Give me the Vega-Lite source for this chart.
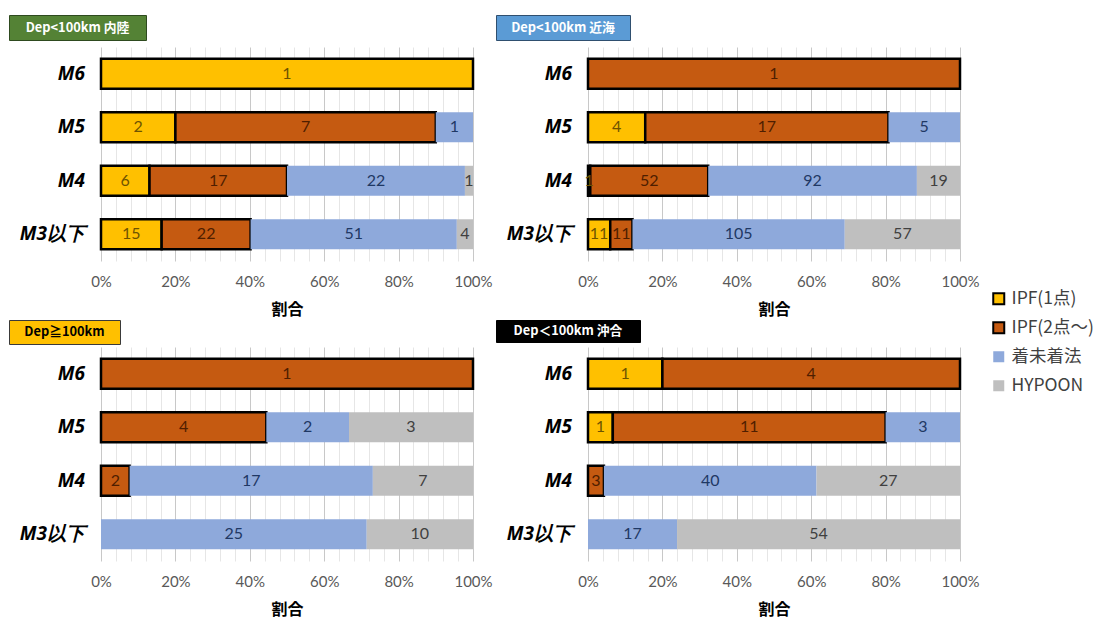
{
  "$schema": "https://vega.github.io/schema/vega-lite/v6.json",
  "padding": {"left": 8, "top": 14, "right": 0, "bottom": 4},
  "background": "white",
  "config": {
    "view": {"stroke": null},
    "axisX": {"domain": false, "ticks": false, "labelFlush": false, "labelOverlap": false, "labelPadding": 13, "labelFont": "Lato", "labelFontSize": 15, "labelColor": "#595959", "titleFont": "Noto Sans CJK JP", "titleFontSize": 16, "titleFontWeight": "bold", "titleColor": "#000000", "titlePadding": 12},
    "legend": {"symbolType": "square", "symbolSize": 121, "symbolStrokeWidth": 2, "labelFont": "Noto Sans CJK JP", "labelFontSize": 17.5, "labelColor": "#404040", "labelOffset": 4, "rowPadding": 9}
  },
  "datasets": {
    "mags": [{"mag": "M6"}, {"mag": "M5"}, {"mag": "M4"}, {"mag": "M3以下"}],
    "typeOrder": [
      {"type": "IPF(1点)", "rank": 1},
      {"type": "IPF(2点～)", "rank": 2},
      {"type": "着未着法", "rank": 3},
      {"type": "HYPOON", "rank": 4}
    ],
    "counts": [
      {"panel": "A", "mag": "M6", "type": "IPF(1点)", "n": 1},
      {"panel": "A", "mag": "M5", "type": "IPF(1点)", "n": 2},
      {"panel": "A", "mag": "M5", "type": "IPF(2点～)", "n": 7},
      {"panel": "A", "mag": "M5", "type": "着未着法", "n": 1},
      {"panel": "A", "mag": "M4", "type": "IPF(1点)", "n": 6},
      {"panel": "A", "mag": "M4", "type": "IPF(2点～)", "n": 17},
      {"panel": "A", "mag": "M4", "type": "着未着法", "n": 22},
      {"panel": "A", "mag": "M4", "type": "HYPOON", "n": 1},
      {"panel": "A", "mag": "M3以下", "type": "IPF(1点)", "n": 15},
      {"panel": "A", "mag": "M3以下", "type": "IPF(2点～)", "n": 22},
      {"panel": "A", "mag": "M3以下", "type": "着未着法", "n": 51},
      {"panel": "A", "mag": "M3以下", "type": "HYPOON", "n": 4},
      {"panel": "B", "mag": "M6", "type": "IPF(2点～)", "n": 1},
      {"panel": "B", "mag": "M5", "type": "IPF(1点)", "n": 4},
      {"panel": "B", "mag": "M5", "type": "IPF(2点～)", "n": 17},
      {"panel": "B", "mag": "M5", "type": "着未着法", "n": 5},
      {"panel": "B", "mag": "M4", "type": "IPF(1点)", "n": 1},
      {"panel": "B", "mag": "M4", "type": "IPF(2点～)", "n": 52},
      {"panel": "B", "mag": "M4", "type": "着未着法", "n": 92},
      {"panel": "B", "mag": "M4", "type": "HYPOON", "n": 19},
      {"panel": "B", "mag": "M3以下", "type": "IPF(1点)", "n": 11},
      {"panel": "B", "mag": "M3以下", "type": "IPF(2点～)", "n": 11},
      {"panel": "B", "mag": "M3以下", "type": "着未着法", "n": 105},
      {"panel": "B", "mag": "M3以下", "type": "HYPOON", "n": 57},
      {"panel": "C", "mag": "M6", "type": "IPF(2点～)", "n": 1},
      {"panel": "C", "mag": "M5", "type": "IPF(2点～)", "n": 4},
      {"panel": "C", "mag": "M5", "type": "着未着法", "n": 2},
      {"panel": "C", "mag": "M5", "type": "HYPOON", "n": 3},
      {"panel": "C", "mag": "M4", "type": "IPF(2点～)", "n": 2},
      {"panel": "C", "mag": "M4", "type": "着未着法", "n": 17},
      {"panel": "C", "mag": "M4", "type": "HYPOON", "n": 7},
      {"panel": "C", "mag": "M3以下", "type": "着未着法", "n": 25},
      {"panel": "C", "mag": "M3以下", "type": "HYPOON", "n": 10},
      {"panel": "D", "mag": "M6", "type": "IPF(1点)", "n": 1},
      {"panel": "D", "mag": "M6", "type": "IPF(2点～)", "n": 4},
      {"panel": "D", "mag": "M5", "type": "IPF(1点)", "n": 1},
      {"panel": "D", "mag": "M5", "type": "IPF(2点～)", "n": 11},
      {"panel": "D", "mag": "M5", "type": "着未着法", "n": 3},
      {"panel": "D", "mag": "M4", "type": "IPF(2点～)", "n": 3},
      {"panel": "D", "mag": "M4", "type": "着未着法", "n": 40},
      {"panel": "D", "mag": "M4", "type": "HYPOON", "n": 27},
      {"panel": "D", "mag": "M3以下", "type": "着未着法", "n": 17},
      {"panel": "D", "mag": "M3以下", "type": "HYPOON", "n": 54}
    ]
  },
  "resolve": {"scale": {"color": "shared", "stroke": "shared", "fill": "shared"}, "legend": {"color": "shared", "stroke": "shared"}},
  "spacing": 2,
  "hconcat": [
    {
      "spacing": 2,
      "vconcat": [
        {
          "spacing": 6,
          "vconcat": [
            {
              "width": 137, "height": 25,
              "view": {"fill": "#548235", "stroke": "#2e4a1f", "strokeWidth": 1},
              "data": {"values": [{"label": "Dep<100km 内陸"}]},
              "mark": {"type": "text", "font": "Noto Sans CJK JP", "fontWeight": "bold", "fontSize": 12.8, "color": "white", "align": "center", "baseline": "middle"},
              "encoding": {"text": {"field": "label"}}
            },
            {
              "spacing": 5,
              "hconcat": [
                {
                  "width": 76, "height": 214,
                  "data": {"name": "mags"},
                  "mark": {"type": "text", "align": "right", "baseline": "middle", "font": "Open Sans", "fontSize": 19, "fontWeight": "bold", "fontStyle": "italic", "color": "#000000"},
                  "encoding": {
                    "y": {"field": "mag", "type": "nominal", "sort": ["M6", "M5", "M4", "M3以下"], "axis": null, "scale": {"domain": ["M6", "M5", "M4", "M3以下"], "paddingInner": 0.44, "paddingOuter": 0.22}},
                    "x": {"value": "width"},
                    "text": {"field": "mag"}
                  }
                },
                {
                  "width": 372, "height": 214,
                  "data": {"name": "counts"},
                  "transform": [
                    {"filter": "datum.panel === 'A'"},
                    {"lookup": "type", "from": {"data": {"name": "typeOrder"}, "key": "type", "fields": ["rank"]}}
                  ],
                  "encoding": {
                    "y": {"field": "mag", "type": "nominal", "sort": ["M6", "M5", "M4", "M3以下"], "axis": null, "scale": {"domain": ["M6", "M5", "M4", "M3以下"], "paddingInner": 0.44, "paddingOuter": 0.22}},
                    "order": {"field": "rank", "type": "quantitative"}
                  },
                  "layer": [
                    {
                      "mark": {"type": "bar", "strokeWidth": 2.5},
                      "encoding": {
                        "x": {"field": "n", "type": "quantitative", "stack": "normalize", "title": "割合", "scale": {"domain": [0, 1]},
                          "axis": {"values": [0, 0.04, 0.08, 0.12, 0.16, 0.2, 0.24, 0.28, 0.32, 0.36, 0.4, 0.44, 0.48, 0.52, 0.56, 0.6, 0.64, 0.68, 0.72, 0.76, 0.8, 0.84, 0.88, 0.92, 0.96, 1],
                            "labelExpr": "round(datum.value*100) % 20 == 0 ? round(datum.value*100) + '%' : ''",
                            "gridColor": {"condition": {"test": "round(datum.value*100) % 20 == 0", "value": "#c8c8c8"}, "value": "#e6e6e6"}}},
                        "color": {"field": "type", "type": "nominal",
                          "scale": {"domain": ["IPF(1点)", "IPF(2点～)", "着未着法", "HYPOON"], "range": ["#FFC000", "#C55A11", "#8EA9DB", "#BFBFBF"]},
                          "legend": {"orient": "none", "legendX": 981, "legendY": 275, "title": null}},
                        "stroke": {"field": "type", "type": "nominal",
                          "scale": {"domain": ["IPF(1点)", "IPF(2点～)", "着未着法", "HYPOON"], "range": ["#000000", "#000000", "transparent", "transparent"]},
                          "legend": {"orient": "none", "legendX": 981, "legendY": 275, "title": null}}
                      }
                    },
                    {
                      "mark": {"type": "text", "font": "Lato", "fontSize": 16},
                      "encoding": {
                        "x": {"field": "n", "type": "quantitative", "stack": "normalize", "bandPosition": 0.5, "title": "割合", "scale": {"domain": [0, 1]},
                          "axis": {"values": [0, 0.04, 0.08, 0.12, 0.16, 0.2, 0.24, 0.28, 0.32, 0.36, 0.4, 0.44, 0.48, 0.52, 0.56, 0.6, 0.64, 0.68, 0.72, 0.76, 0.8, 0.84, 0.88, 0.92, 0.96, 1],
                            "labelExpr": "round(datum.value*100) % 20 == 0 ? round(datum.value*100) + '%' : ''",
                            "gridColor": {"condition": {"test": "round(datum.value*100) % 20 == 0", "value": "#c8c8c8"}, "value": "#e6e6e6"}}},
                        "text": {"field": "n", "type": "quantitative"},
                        "fill": {"field": "type", "type": "nominal",
                          "scale": {"domain": ["IPF(1点)", "IPF(2点～)", "着未着法", "HYPOON"], "range": ["#6E5300", "#4F1E00", "#1F3864", "#404040"]},
                          "legend": null}
                      }
                    }
                  ]
                }
              ]
            }
          ]
        },
        {
          "spacing": 2,
          "vconcat": [
            {
              "width": 111, "height": 24,
              "view": {"fill": "#FFC000", "stroke": "#3a3a3a", "strokeWidth": 1},
              "data": {"values": [{"label": "Dep≧100km"}]},
              "mark": {"type": "text", "font": "Noto Sans CJK JP", "fontWeight": "bold", "fontSize": 12.8, "color": "#000000", "align": "center", "baseline": "middle"},
              "encoding": {"text": {"field": "label"}}
            },
            {
              "spacing": 5,
              "hconcat": [
                {
                  "width": 76, "height": 214,
                  "data": {"name": "mags"},
                  "mark": {"type": "text", "align": "right", "baseline": "middle", "font": "Open Sans", "fontSize": 19, "fontWeight": "bold", "fontStyle": "italic", "color": "#000000"},
                  "encoding": {
                    "y": {"field": "mag", "type": "nominal", "sort": ["M6", "M5", "M4", "M3以下"], "axis": null, "scale": {"domain": ["M6", "M5", "M4", "M3以下"], "paddingInner": 0.44, "paddingOuter": 0.22}},
                    "x": {"value": "width"},
                    "text": {"field": "mag"}
                  }
                },
                {
                  "width": 372, "height": 214,
                  "data": {"name": "counts"},
                  "transform": [
                    {"filter": "datum.panel === 'C'"},
                    {"lookup": "type", "from": {"data": {"name": "typeOrder"}, "key": "type", "fields": ["rank"]}}
                  ],
                  "encoding": {
                    "y": {"field": "mag", "type": "nominal", "sort": ["M6", "M5", "M4", "M3以下"], "axis": null, "scale": {"domain": ["M6", "M5", "M4", "M3以下"], "paddingInner": 0.44, "paddingOuter": 0.22}},
                    "order": {"field": "rank", "type": "quantitative"}
                  },
                  "layer": [
                    {
                      "mark": {"type": "bar", "strokeWidth": 2.5},
                      "encoding": {
                        "x": {"field": "n", "type": "quantitative", "stack": "normalize", "title": "割合", "scale": {"domain": [0, 1]},
                          "axis": {"values": [0, 0.04, 0.08, 0.12, 0.16, 0.2, 0.24, 0.28, 0.32, 0.36, 0.4, 0.44, 0.48, 0.52, 0.56, 0.6, 0.64, 0.68, 0.72, 0.76, 0.8, 0.84, 0.88, 0.92, 0.96, 1],
                            "labelExpr": "round(datum.value*100) % 20 == 0 ? round(datum.value*100) + '%' : ''",
                            "gridColor": {"condition": {"test": "round(datum.value*100) % 20 == 0", "value": "#c8c8c8"}, "value": "#e6e6e6"}}},
                        "color": {"field": "type", "type": "nominal",
                          "scale": {"domain": ["IPF(1点)", "IPF(2点～)", "着未着法", "HYPOON"], "range": ["#FFC000", "#C55A11", "#8EA9DB", "#BFBFBF"]},
                          "legend": {"orient": "none", "legendX": 981, "legendY": 275, "title": null}},
                        "stroke": {"field": "type", "type": "nominal",
                          "scale": {"domain": ["IPF(1点)", "IPF(2点～)", "着未着法", "HYPOON"], "range": ["#000000", "#000000", "transparent", "transparent"]},
                          "legend": {"orient": "none", "legendX": 981, "legendY": 275, "title": null}}
                      }
                    },
                    {
                      "mark": {"type": "text", "font": "Lato", "fontSize": 16},
                      "encoding": {
                        "x": {"field": "n", "type": "quantitative", "stack": "normalize", "bandPosition": 0.5, "title": "割合", "scale": {"domain": [0, 1]},
                          "axis": {"values": [0, 0.04, 0.08, 0.12, 0.16, 0.2, 0.24, 0.28, 0.32, 0.36, 0.4, 0.44, 0.48, 0.52, 0.56, 0.6, 0.64, 0.68, 0.72, 0.76, 0.8, 0.84, 0.88, 0.92, 0.96, 1],
                            "labelExpr": "round(datum.value*100) % 20 == 0 ? round(datum.value*100) + '%' : ''",
                            "gridColor": {"condition": {"test": "round(datum.value*100) % 20 == 0", "value": "#c8c8c8"}, "value": "#e6e6e6"}}},
                        "text": {"field": "n", "type": "quantitative"},
                        "fill": {"field": "type", "type": "nominal",
                          "scale": {"domain": ["IPF(1点)", "IPF(2点～)", "着未着法", "HYPOON"], "range": ["#6E5300", "#4F1E00", "#1F3864", "#404040"]},
                          "legend": null}
                      }
                    }
                  ]
                }
              ]
            }
          ]
        }
      ]
    },
    {
      "spacing": 2,
      "vconcat": [
        {
          "spacing": 6,
          "vconcat": [
            {
              "width": 134, "height": 25,
              "view": {"fill": "#5B9BD5", "stroke": "#2f4f6f", "strokeWidth": 1},
              "data": {"values": [{"label": "Dep<100km 近海"}]},
              "mark": {"type": "text", "font": "Noto Sans CJK JP", "fontWeight": "bold", "fontSize": 12.8, "color": "white", "align": "center", "baseline": "middle"},
              "encoding": {"text": {"field": "label"}}
            },
            {
              "spacing": 5,
              "hconcat": [
                {
                  "width": 76, "height": 214,
                  "data": {"name": "mags"},
                  "mark": {"type": "text", "align": "right", "baseline": "middle", "font": "Open Sans", "fontSize": 19, "fontWeight": "bold", "fontStyle": "italic", "color": "#000000"},
                  "encoding": {
                    "y": {"field": "mag", "type": "nominal", "sort": ["M6", "M5", "M4", "M3以下"], "axis": null, "scale": {"domain": ["M6", "M5", "M4", "M3以下"], "paddingInner": 0.44, "paddingOuter": 0.22}},
                    "x": {"value": "width"},
                    "text": {"field": "mag"}
                  }
                },
                {
                  "width": 372, "height": 214,
                  "data": {"name": "counts"},
                  "transform": [
                    {"filter": "datum.panel === 'B'"},
                    {"lookup": "type", "from": {"data": {"name": "typeOrder"}, "key": "type", "fields": ["rank"]}}
                  ],
                  "encoding": {
                    "y": {"field": "mag", "type": "nominal", "sort": ["M6", "M5", "M4", "M3以下"], "axis": null, "scale": {"domain": ["M6", "M5", "M4", "M3以下"], "paddingInner": 0.44, "paddingOuter": 0.22}},
                    "order": {"field": "rank", "type": "quantitative"}
                  },
                  "layer": [
                    {
                      "mark": {"type": "bar", "strokeWidth": 2.5},
                      "encoding": {
                        "x": {"field": "n", "type": "quantitative", "stack": "normalize", "title": "割合", "scale": {"domain": [0, 1]},
                          "axis": {"values": [0, 0.04, 0.08, 0.12, 0.16, 0.2, 0.24, 0.28, 0.32, 0.36, 0.4, 0.44, 0.48, 0.52, 0.56, 0.6, 0.64, 0.68, 0.72, 0.76, 0.8, 0.84, 0.88, 0.92, 0.96, 1],
                            "labelExpr": "round(datum.value*100) % 20 == 0 ? round(datum.value*100) + '%' : ''",
                            "gridColor": {"condition": {"test": "round(datum.value*100) % 20 == 0", "value": "#c8c8c8"}, "value": "#e6e6e6"}}},
                        "color": {"field": "type", "type": "nominal",
                          "scale": {"domain": ["IPF(1点)", "IPF(2点～)", "着未着法", "HYPOON"], "range": ["#FFC000", "#C55A11", "#8EA9DB", "#BFBFBF"]},
                          "legend": {"orient": "none", "legendX": 981, "legendY": 275, "title": null}},
                        "stroke": {"field": "type", "type": "nominal",
                          "scale": {"domain": ["IPF(1点)", "IPF(2点～)", "着未着法", "HYPOON"], "range": ["#000000", "#000000", "transparent", "transparent"]},
                          "legend": {"orient": "none", "legendX": 981, "legendY": 275, "title": null}}
                      }
                    },
                    {
                      "mark": {"type": "text", "font": "Lato", "fontSize": 16},
                      "encoding": {
                        "x": {"field": "n", "type": "quantitative", "stack": "normalize", "bandPosition": 0.5, "title": "割合", "scale": {"domain": [0, 1]},
                          "axis": {"values": [0, 0.04, 0.08, 0.12, 0.16, 0.2, 0.24, 0.28, 0.32, 0.36, 0.4, 0.44, 0.48, 0.52, 0.56, 0.6, 0.64, 0.68, 0.72, 0.76, 0.8, 0.84, 0.88, 0.92, 0.96, 1],
                            "labelExpr": "round(datum.value*100) % 20 == 0 ? round(datum.value*100) + '%' : ''",
                            "gridColor": {"condition": {"test": "round(datum.value*100) % 20 == 0", "value": "#c8c8c8"}, "value": "#e6e6e6"}}},
                        "text": {"field": "n", "type": "quantitative"},
                        "fill": {"field": "type", "type": "nominal",
                          "scale": {"domain": ["IPF(1点)", "IPF(2点～)", "着未着法", "HYPOON"], "range": ["#6E5300", "#4F1E00", "#1F3864", "#404040"]},
                          "legend": null}
                      }
                    }
                  ]
                }
              ]
            }
          ]
        },
        {
          "spacing": 4,
          "vconcat": [
            {
              "width": 144, "height": 22,
              "view": {"fill": "#000000", "stroke": "#000000", "strokeWidth": 1},
              "data": {"values": [{"label": "Dep＜100km 沖合"}]},
              "mark": {"type": "text", "font": "Noto Sans CJK JP", "fontWeight": "bold", "fontSize": 12.8, "color": "white", "align": "center", "baseline": "middle"},
              "encoding": {"text": {"field": "label"}}
            },
            {
              "spacing": 5,
              "hconcat": [
                {
                  "width": 76, "height": 214,
                  "data": {"name": "mags"},
                  "mark": {"type": "text", "align": "right", "baseline": "middle", "font": "Open Sans", "fontSize": 19, "fontWeight": "bold", "fontStyle": "italic", "color": "#000000"},
                  "encoding": {
                    "y": {"field": "mag", "type": "nominal", "sort": ["M6", "M5", "M4", "M3以下"], "axis": null, "scale": {"domain": ["M6", "M5", "M4", "M3以下"], "paddingInner": 0.44, "paddingOuter": 0.22}},
                    "x": {"value": "width"},
                    "text": {"field": "mag"}
                  }
                },
                {
                  "width": 372, "height": 214,
                  "data": {"name": "counts"},
                  "transform": [
                    {"filter": "datum.panel === 'D'"},
                    {"lookup": "type", "from": {"data": {"name": "typeOrder"}, "key": "type", "fields": ["rank"]}}
                  ],
                  "encoding": {
                    "y": {"field": "mag", "type": "nominal", "sort": ["M6", "M5", "M4", "M3以下"], "axis": null, "scale": {"domain": ["M6", "M5", "M4", "M3以下"], "paddingInner": 0.44, "paddingOuter": 0.22}},
                    "order": {"field": "rank", "type": "quantitative"}
                  },
                  "layer": [
                    {
                      "mark": {"type": "bar", "strokeWidth": 2.5},
                      "encoding": {
                        "x": {"field": "n", "type": "quantitative", "stack": "normalize", "title": "割合", "scale": {"domain": [0, 1]},
                          "axis": {"values": [0, 0.04, 0.08, 0.12, 0.16, 0.2, 0.24, 0.28, 0.32, 0.36, 0.4, 0.44, 0.48, 0.52, 0.56, 0.6, 0.64, 0.68, 0.72, 0.76, 0.8, 0.84, 0.88, 0.92, 0.96, 1],
                            "labelExpr": "round(datum.value*100) % 20 == 0 ? round(datum.value*100) + '%' : ''",
                            "gridColor": {"condition": {"test": "round(datum.value*100) % 20 == 0", "value": "#c8c8c8"}, "value": "#e6e6e6"}}},
                        "color": {"field": "type", "type": "nominal",
                          "scale": {"domain": ["IPF(1点)", "IPF(2点～)", "着未着法", "HYPOON"], "range": ["#FFC000", "#C55A11", "#8EA9DB", "#BFBFBF"]},
                          "legend": {"orient": "none", "legendX": 981, "legendY": 275, "title": null}},
                        "stroke": {"field": "type", "type": "nominal",
                          "scale": {"domain": ["IPF(1点)", "IPF(2点～)", "着未着法", "HYPOON"], "range": ["#000000", "#000000", "transparent", "transparent"]},
                          "legend": {"orient": "none", "legendX": 981, "legendY": 275, "title": null}}
                      }
                    },
                    {
                      "mark": {"type": "text", "font": "Lato", "fontSize": 16},
                      "encoding": {
                        "x": {"field": "n", "type": "quantitative", "stack": "normalize", "bandPosition": 0.5, "title": "割合", "scale": {"domain": [0, 1]},
                          "axis": {"values": [0, 0.04, 0.08, 0.12, 0.16, 0.2, 0.24, 0.28, 0.32, 0.36, 0.4, 0.44, 0.48, 0.52, 0.56, 0.6, 0.64, 0.68, 0.72, 0.76, 0.8, 0.84, 0.88, 0.92, 0.96, 1],
                            "labelExpr": "round(datum.value*100) % 20 == 0 ? round(datum.value*100) + '%' : ''",
                            "gridColor": {"condition": {"test": "round(datum.value*100) % 20 == 0", "value": "#c8c8c8"}, "value": "#e6e6e6"}}},
                        "text": {"field": "n", "type": "quantitative"},
                        "fill": {"field": "type", "type": "nominal",
                          "scale": {"domain": ["IPF(1点)", "IPF(2点～)", "着未着法", "HYPOON"], "range": ["#6E5300", "#4F1E00", "#1F3864", "#404040"]},
                          "legend": null}
                      }
                    }
                  ]
                }
              ]
            }
          ]
        }
      ]
    }
  ]
}
